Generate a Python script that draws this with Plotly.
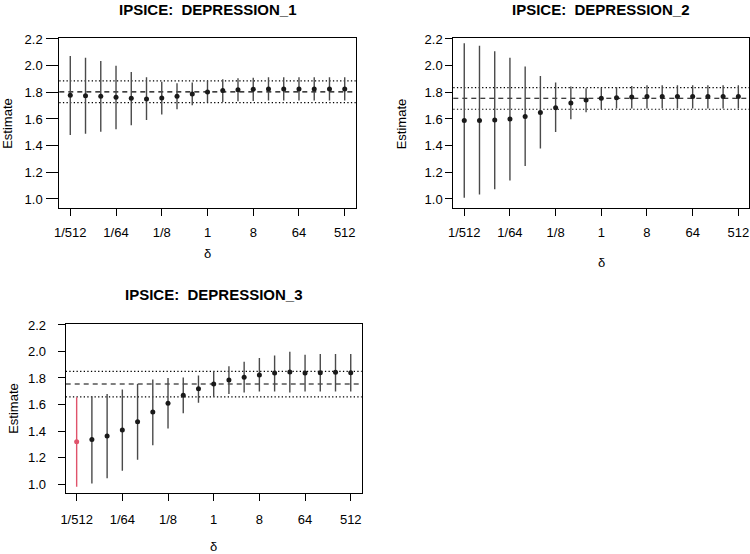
import plotly.graph_objects as go
import numpy as np

# ---------------- data ----------------
log2_delta = list(range(-9, 10))                     # delta = 2^k
delta = [2.0 ** k for k in log2_delta]
tick_vals = [1/512, 1/64, 1/8, 1, 8, 64, 512]
tick_text = ["1/512", "1/64", "1/8", "1", "8", "64", "512"]

titles = ["IPSICE:  DEPRESSION_1", "IPSICE:  DEPRESSION_2", "IPSICE:  DEPRESSION_3"]

est_1 = [1.778, 1.775, 1.770, 1.763, 1.755, 1.750, 1.758, 1.770, 1.788, 1.803,
         1.813, 1.820, 1.823, 1.825, 1.825, 1.825, 1.825, 1.825, 1.825]
up_1 = [2.073, 2.060, 2.035, 2.000, 1.953, 1.913, 1.880, 1.868, 1.873, 1.885,
        1.898, 1.905, 1.910, 1.913, 1.913, 1.913, 1.913, 1.913, 1.913]
lo_1 = [1.480, 1.490, 1.505, 1.523, 1.553, 1.593, 1.633, 1.673, 1.703, 1.723,
        1.728, 1.733, 1.735, 1.738, 1.738, 1.738, 1.738, 1.738, 1.738]

est_2 = [1.588, 1.588, 1.593, 1.600, 1.618, 1.648, 1.685, 1.720, 1.743, 1.755,
         1.760, 1.765, 1.768, 1.768, 1.768, 1.768, 1.768, 1.768, 1.768]
up_2 = [2.168, 2.150, 2.108, 2.060, 1.993, 1.923, 1.873, 1.843, 1.830, 1.835,
        1.840, 1.848, 1.853, 1.853, 1.853, 1.853, 1.853, 1.853, 1.853]
lo_2 = [1.010, 1.033, 1.073, 1.138, 1.248, 1.378, 1.503, 1.598, 1.650, 1.673,
        1.678, 1.678, 1.678, 1.678, 1.678, 1.678, 1.678, 1.678, 1.678]

est_3 = [1.318, 1.335, 1.363, 1.408, 1.470, 1.543, 1.610, 1.670, 1.718, 1.755,
         1.785, 1.805, 1.823, 1.838, 1.845, 1.838, 1.840, 1.843, 1.840]
up_3 = [1.655, 1.663, 1.680, 1.713, 1.755, 1.788, 1.800, 1.803, 1.818, 1.850,
        1.888, 1.923, 1.950, 1.970, 1.998, 1.975, 1.980, 1.980, 1.980]
lo_3 = [0.980, 1.003, 1.043, 1.100, 1.183, 1.293, 1.418, 1.533, 1.613, 1.658,
        1.680, 1.690, 1.698, 1.698, 1.690, 1.698, 1.698, 1.698, 1.698]

# reference lines (estimate at delta = 1 and its interval)
ref_mid = [1.803, 1.755, 1.755]
ref_up = [1.885, 1.835, 1.850]
ref_lo = [1.723, 1.673, 1.658]

# highlighted point in panel 3 (index 0)
highlight_idx = 0

# ---------------- layout helpers ----------------
W, H = 750, 554
def px_x(p):
    return p / W
def px_y(p):
    return 1 - p / H

# plot boxes in pixels: (left, right, top, bottom)
boxes = [(59.3, 355.7, 38.3, 208.3),
         (453.3, 749.3, 38.3, 208.3),
         (65.7, 361.7, 324.3, 493.3)]
y_ticklen = [12, 7, 7]
y_standoff = [1, 0, 9]
x_standoff = [5, 5, 7]
title_y = [9.0, 9.0, 294.0]
ylab_x = [7.5, 401.0, 14.0]
xlab_y = [253.5, 262.5, 546.0]

series = [(est_1, up_1, lo_1), (est_2, up_2, lo_2), (est_3, up_3, lo_3)]

FONT = "Liberation Sans, Arial, Helvetica, sans-serif"
BAR_COL = "#4a4a4a"
PT_COL = "#1a1a1a"
RED = "#DF536B"

fig = go.Figure()
xr = 9.72 * np.log10(2)

for i, (est, up, lo) in enumerate(series):
    ax = "" if i == 0 else str(i + 1)
    xref, yref = "x" + ax, "y" + ax
    e_plus = [u - e for u, e in zip(up, est)]
    e_minus = [e - l for e, l in zip(est, lo)]
    idx = list(range(len(delta)))
    if i == 2:
        idx = [j for j in idx if j != highlight_idx]
    fig.add_trace(go.Scatter(
        x=[delta[j] for j in idx], y=[est[j] for j in idx], mode="markers",
        marker=dict(color=PT_COL, size=5),
        error_y=dict(type="data", array=[e_plus[j] for j in idx],
                     arrayminus=[e_minus[j] for j in idx],
                     color=BAR_COL, thickness=1.4, width=0, visible=True),
        xaxis=xref, yaxis=yref, showlegend=False, hoverinfo="skip"))
    if i == 2:
        j = highlight_idx
        fig.add_trace(go.Scatter(
            x=[delta[j]], y=[est[j]], mode="markers",
            marker=dict(color=RED, size=5),
            error_y=dict(type="data", array=[e_plus[j]], arrayminus=[e_minus[j]],
                         color=RED, thickness=1.4, width=0, visible=True),
            xaxis=xref, yaxis=yref, showlegend=False, hoverinfo="skip"))

    # reference lines
    for val, dash, lw in [(ref_mid[i], "5px,4px", 1.1),
                          (ref_up[i], "1.3px,2.3px", 1.2),
                          (ref_lo[i], "1.3px,2.3px", 1.2)]:
        fig.add_shape(type="line", xref=xref + " domain", yref=yref,
                      x0=0, x1=1, y0=val, y1=val,
                      line=dict(color="black", width=lw, dash=dash), layer="below")

    l, r, t, b = boxes[i]
    axis_common = dict(showline=True, mirror=True, linecolor="black", linewidth=1,
                       ticks="outside", tickcolor="black", tickwidth=1,
                       showgrid=False, zeroline=False, automargin=False,
                       tickfont=dict(family=FONT, size=13, color="black"))
    fig.layout["xaxis" + ax] = dict(
        domain=[px_x(l), px_x(r)], anchor=yref, type="log",
        range=[-xr, xr], tickvals=tick_vals, ticktext=tick_text,
        ticklen=7, ticklabelstandoff=x_standoff[i], **axis_common)
    fig.layout["yaxis" + ax] = dict(
        domain=[px_y(b), px_y(t)], anchor=xref, range=[0.93, 2.205],
        tickvals=[1.0, 1.2, 1.4, 1.6, 1.8, 2.0, 2.2], tickformat=".1f",
        ticklen=y_ticklen[i], ticklabelstandoff=y_standoff[i], **axis_common)

    cx = (l + r) / 2
    fig.add_annotation(text="<b>" + titles[i] + "</b>", xref="paper", yref="paper",
                       x=px_x(cx), y=px_y(title_y[i]), xanchor="center", yanchor="middle",
                       showarrow=False, font=dict(family=FONT, size=15, color="black"))
    fig.add_annotation(text="Estimate", xref="paper", yref="paper", textangle=-90,
                       x=px_x(ylab_x[i]), y=px_y((t + b) / 2), xanchor="center",
                       yanchor="middle", showarrow=False,
                       font=dict(family=FONT, size=13, color="black"))
    fig.add_annotation(text="δ", xref="paper", yref="paper",
                       x=px_x(cx), y=px_y(xlab_y[i]), xanchor="center",
                       yanchor="middle", showarrow=False,
                       font=dict(family=FONT, size=13, color="black"))

fig.update_layout(width=W, height=H, margin=dict(l=0, r=0, t=0, b=0, pad=0, autoexpand=False),
                  paper_bgcolor="white", plot_bgcolor="white")
fig.write_html("out.html")
